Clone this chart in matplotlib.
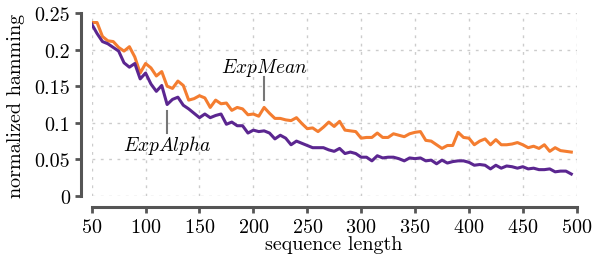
import matplotlib
matplotlib.use("Agg")
import matplotlib.pyplot as plt
import numpy as np

# data
seq_len = list(range(50, 500, 5))

exp_mean = [0.237, 0.237, 0.218, 0.212, 0.211, 0.203, 0.198, 0.204, 0.190, 0.168,
            0.181, 0.175, 0.164, 0.170, 0.150, 0.147, 0.157, 0.151, 0.131, 0.133,
            0.137, 0.134, 0.121, 0.131, 0.126, 0.127, 0.117, 0.121, 0.119, 0.111,
            0.112, 0.109, 0.121, 0.113, 0.106, 0.106, 0.104, 0.103, 0.107, 0.099,
            0.092, 0.093, 0.088, 0.094, 0.101, 0.095, 0.102, 0.090, 0.089, 0.088,
            0.079, 0.080, 0.080, 0.086, 0.080, 0.080, 0.085, 0.083, 0.081, 0.085,
            0.087, 0.088, 0.076, 0.075, 0.070, 0.065, 0.069, 0.069, 0.087, 0.080,
            0.079, 0.070, 0.075, 0.078, 0.070, 0.077, 0.070, 0.070, 0.071, 0.073,
            0.070, 0.066, 0.068, 0.065, 0.070, 0.061, 0.066, 0.062, 0.061, 0.060]

exp_alpha = [0.235, 0.222, 0.211, 0.208, 0.203, 0.198, 0.182, 0.176, 0.181, 0.160,
             0.168, 0.153, 0.143, 0.151, 0.125, 0.132, 0.135, 0.124, 0.119, 0.113,
             0.107, 0.112, 0.107, 0.110, 0.112, 0.098, 0.101, 0.096, 0.096, 0.086,
             0.090, 0.088, 0.089, 0.086, 0.078, 0.083, 0.079, 0.070, 0.075, 0.072,
             0.069, 0.066, 0.066, 0.066, 0.063, 0.061, 0.065, 0.058, 0.060, 0.058,
             0.053, 0.053, 0.048, 0.055, 0.052, 0.053, 0.053, 0.051, 0.048, 0.052,
             0.051, 0.052, 0.048, 0.049, 0.044, 0.049, 0.045, 0.047, 0.048, 0.048,
             0.046, 0.042, 0.043, 0.042, 0.037, 0.042, 0.038, 0.041, 0.040, 0.038,
             0.040, 0.037, 0.038, 0.036, 0.036, 0.037, 0.033, 0.034, 0.034, 0.030]

x_ticks = [50, 100, 150, 200, 250, 300, 350, 400, 450, 500]
y_ticks = [0, 0.05, 0.1, 0.15, 0.2, 0.25]
y_tick_labels = ["0", "0.05", "0.1", "0.15", "0.2", "0.25"]

plt.rcParams["font.family"] = "serif"
plt.rcParams["font.serif"] = ["cmr10", "DejaVu Serif"]
plt.rcParams["mathtext.fontset"] = "cm"
plt.rcParams["axes.formatter.use_mathtext"] = True

spine_col = "#555555"
fs = 14.5

fig = plt.figure(figsize=(5.93, 2.55), dpi=100)
ax = fig.add_axes([0.1546, 0.2275, 0.9725 - 0.1546, 0.945 - 0.2275])

ax.plot(seq_len, exp_mean, c="#f47d30", lw=2.2, zorder=3)
ax.plot(seq_len, exp_alpha, c="#5b2690", lw=2.2, zorder=3)

ax.set_xlim(50, 500)
ax.set_ylim(0, 0.25)
ax.set_xticks(x_ticks)
ax.set_yticks(y_ticks)
ax.set_yticklabels(y_tick_labels)
ax.tick_params(labelsize=fs, width=2, length=4, color=spine_col, pad=3.5)
ax.grid(True, ls=(0, (2, 4)), color="#cccccc", lw=1)

for s in ["top", "right"]:
    ax.spines[s].set_visible(False)
for s in ["left", "bottom"]:
    ax.spines[s].set_position(("outward", 8))
    ax.spines[s].set_linewidth(2.2)
    ax.spines[s].set_color(spine_col)

ax.set_xlabel("sequence length", fontsize=fs, labelpad=0)
ax.set_ylabel("normalized hamming", fontsize=fs, labelpad=7)

# annotations
ax.plot([210, 210], [0.131, 0.163], c="#777777", lw=1.5)
ax.text(210, 0.176, r"$ExpMean$", ha="center", va="center", fontsize=14)
ax.plot([120, 120], [0.086, 0.116], c="#777777", lw=1.5)
ax.text(120, 0.071, r"$ExpAlpha$", ha="center", va="center", fontsize=14)

plt.savefig("out.png", dpi=100)
